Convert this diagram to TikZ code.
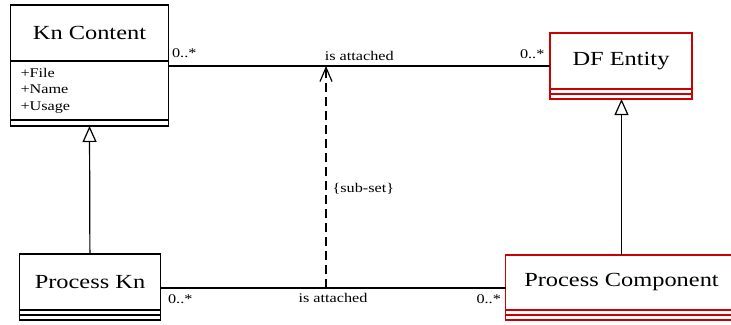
\documentclass[tikz,border=0pt]{standalone}
\usepackage{fontspec}
\setmainfont[FakeStretch=1.22]{Liberation Serif}
\usetikzlibrary{positioning,arrows.meta}
\definecolor{entityred}{RGB}{204,0,0}
\tikzset{
    classname/.style={draw, rectangle, line width=1.2pt, outer sep=0pt, inner sep=0pt,
        minimum height=56pt, font=\fontsize{20}{24}\selectfont},
    classpart/.style={draw, rectangle, line width=1.2pt, outer sep=0pt, inner sep=0pt,
        minimum height=5pt},
    lbl/.style={inner sep=0pt, font=\fontsize{13.3}{16.5}\selectfont},
    assoc/.style={line width=1.2pt},
    inherit/.style={line width=1.2pt, -{Triangle[open,length=16pt,width=14pt]}},
    subset/.style={line width=1.2pt, dash pattern=on 9pt off 5pt,
        -{Straight Barb[length=14pt,width=12pt]}},
}
\begin{document}
\begin{tikzpicture}[x=1pt,y=-1pt]
    \useasboundingbox (0,0) rectangle (731,324);
    %classes
    \node[classname, minimum width=158pt] (kc) at (89.5,33) {Kn Content};
    \node[classpart, minimum width=158pt, minimum height=59pt, text width=138pt,
        align=left, font=\fontsize{13.3}{16.5}\selectfont, below=0pt of kc] (kcattr)
        {+File\\+Name\\+Usage};
    \node[classpart, minimum width=158pt, minimum height=6pt, below=0pt of kcattr] (kcops) {};

    \node[classname, draw=entityred, minimum width=142pt] (dfe) at (621,61) {DF Entity};
    \node[classpart, draw=entityred, minimum width=142pt, below=0pt of dfe] (dfeattr) {};
    \node[classpart, draw=entityred, minimum width=142pt, below=0pt of dfeattr] (dfeops) {};

    \node[classname, minimum width=141pt] (pk) at (90,282) {Process Kn};
    \node[classpart, minimum width=141pt, below=0pt of pk] (pkattr) {};
    \node[classpart, minimum width=141pt, below=0pt of pkattr] (pkops) {};

    \node[classname, draw=entityred, minimum width=232pt, minimum height=55pt] (pc)
        at (621.5,282.5) {Process Component};
    \node[classpart, draw=entityred, minimum width=232pt, below=0pt of pc] (pcattr) {};
    \node[classpart, draw=entityred, minimum width=232pt, below=0pt of pcattr] (pcops) {};

    %associations
    \path (kcattr.north east) ++(0,5) coordinate (kcA);
    \path (pk.east) ++(0,6) coordinate (pkA);
    \draw[assoc] (kcA) -- node[lbl, pos=0, anchor=south west, xshift=3pt, yshift=8pt] {0..*}
        node[lbl, midway, above=5pt] {is attached}
        node[lbl, pos=1, anchor=south east, xshift=-5pt, yshift=7pt] {0..*}
        (kcA -| dfe.west);
    \draw[assoc] (pkA) -- node[lbl, pos=0, anchor=north west, xshift=7pt, yshift=-6pt] {0..*}
        node[lbl, midway, below=4.5pt] {is attached}
        node[lbl, pos=1, anchor=north east, xshift=-4pt, yshift=-6pt] {0..*}
        (pkA -| pc.west);

    %sub-set
    \coordinate (subT) at (326,66);
    \coordinate (subB) at (326,288);
    \draw[subset] (subB) -- node[lbl, pos=0.446, right=6pt] {\{sub-set\}} (subT);

    %generalization
    \draw[inherit] (pk) -- (kcops);
    \draw[inherit] (pc.north) -- (pc.north |- dfeops.south);
\end{tikzpicture}
\end{document}
